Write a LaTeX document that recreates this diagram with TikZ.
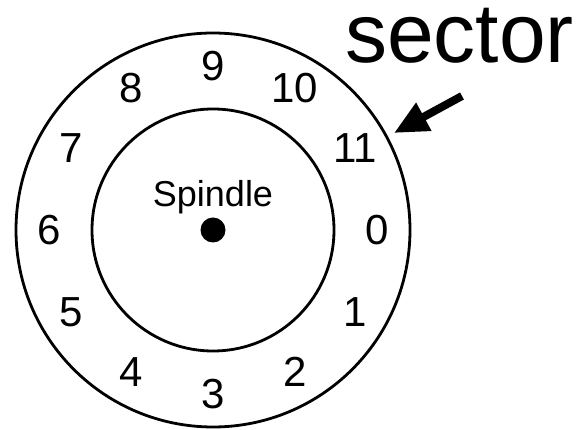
\documentclass[tikz,border=0pt]{standalone}
\usepackage{fontspec}
\setmainfont{Liberation Sans}
\usetikzlibrary{arrows.meta,calc}
\begin{document}
\begin{tikzpicture}[x=1pt,y=-1pt,
  ring/.style={draw=black,line width=2.8pt},
  num/.style={font=\fontsize{42}{42}\selectfont,inner sep=0pt}]
\useasboundingbox (0,0) rectangle (582,430);
\coordinate (c) at (213,230);
\draw[ring] (c) circle[radius=197];
\draw[ring] (c) circle[radius=121];
\fill (c) circle[radius=12.5];
\node[font=\fontsize{36}{36}\selectfont,inner sep=0pt] (sp) at (213,197) {Spindle};
\foreach \k in {0,...,11}{
  \node[num] (n\k) at ($(c)+({cos(-30*\k)*164},{-sin(-30*\k)*164})$) {\k};
}
\node[font=\fontsize{84}{84}\selectfont,inner sep=0pt,anchor=base west] (sec) at (345,63) {sector};
\coordinate (tail) at (462,96);
\coordinate (tip) at (394,133);
\draw[line width=8pt,-{Triangle[length=34pt,width=30pt]}] (tail) -- (tip);
\end{tikzpicture}
\end{document}
